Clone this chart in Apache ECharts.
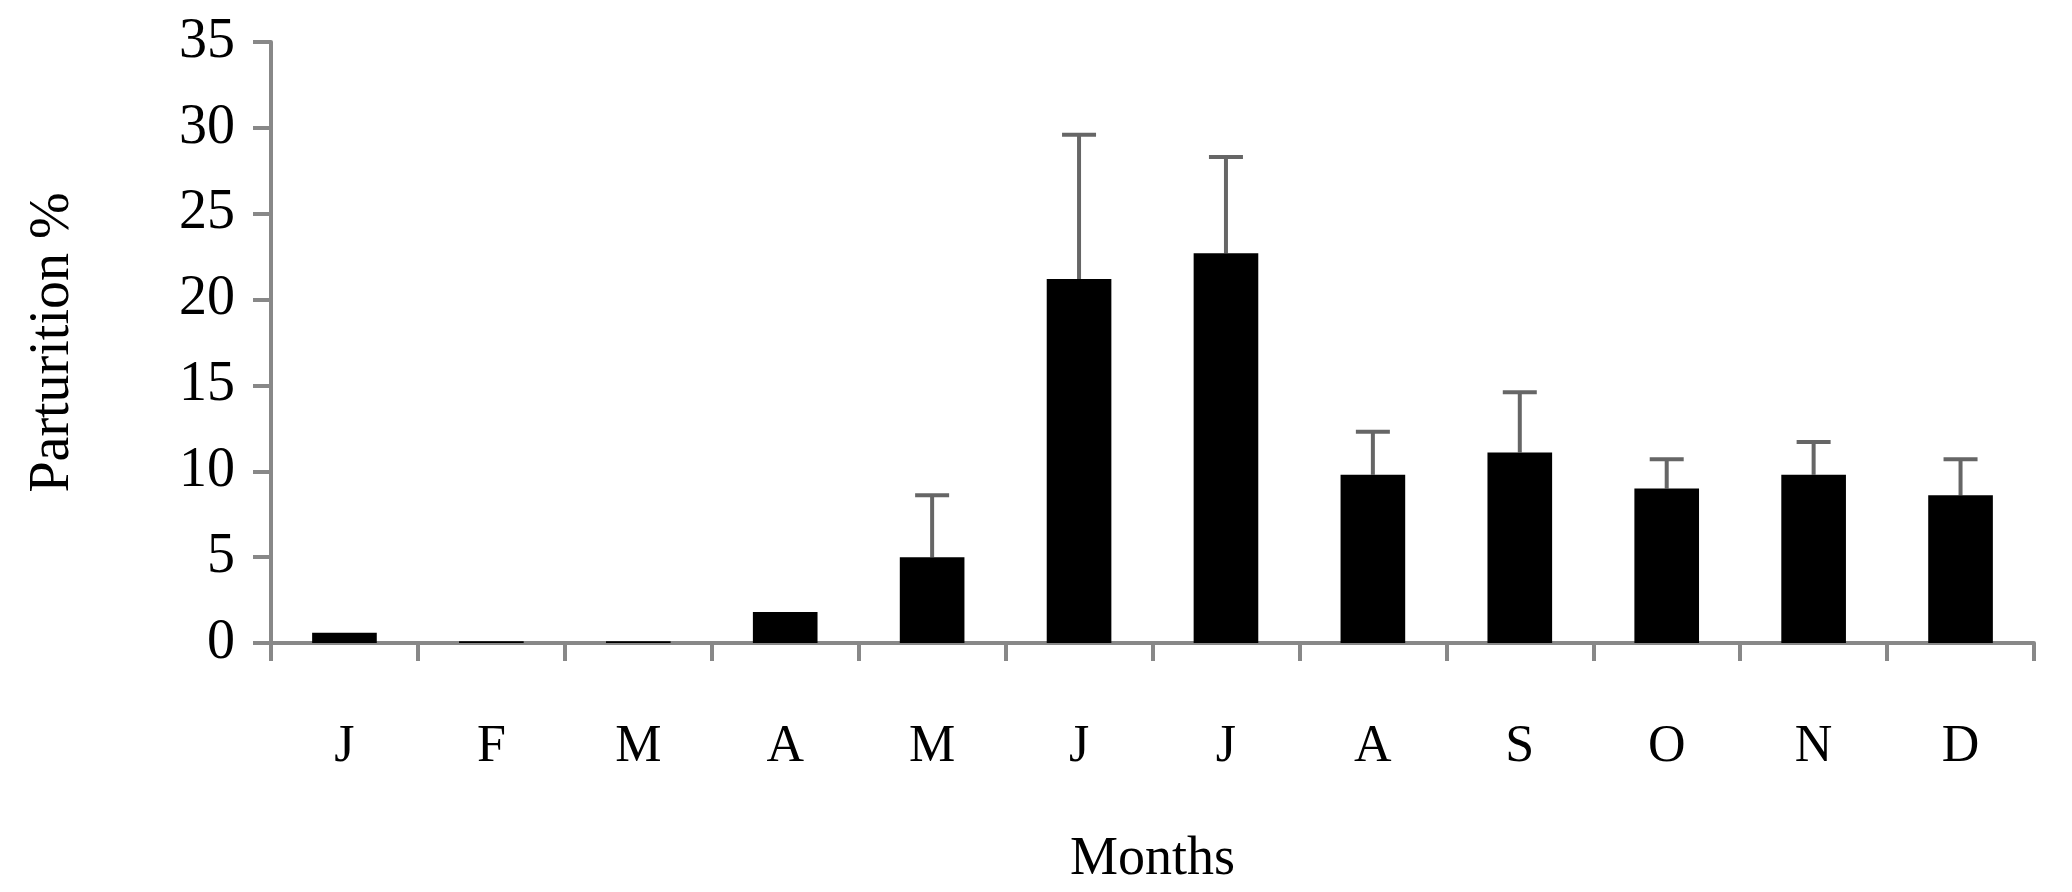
<!DOCTYPE html>
<html>
<head>
<meta charset="utf-8"/>
<script src="https://cdn.jsdelivr.net/npm/echarts@6/dist/echarts.min.js"></script>
<style>html,body{margin:0;background:#fff}#chart{width:2072px;height:892px}</style>
</head>
<body>
<div id="chart"></div>
<script>
var months = ['J', 'F', 'M', 'A', 'M', 'J', 'J', 'A', 'S', 'O', 'N', 'D'];
var parturition = [0.6, 0.1, 0.1, 1.8, 5.0, 21.2, 22.7, 9.8, 11.1, 9.0, 9.8, 8.6];
var errorTop = [0.6, 0.1, 0.1, 1.8, 8.6, 29.6, 28.3, 12.3, 14.6, 10.7, 11.7, 10.7];

var chart = echarts.init(document.getElementById('chart'));
var font = 'Liberation Serif';
var errData = [];
for (var i = 0; i < months.length; i++) {
    errData.push([i, parturition[i], errorTop[i]]);
}
chart.setOption({
    animation: false,
    grid: {left: 271, right: 38, top: 42, bottom: 242},
    xAxis: {
        type: 'category',
        data: months,
        name: 'Months',
        nameLocation: 'middle',
        nameGap: 190,
        nameTextStyle: {fontFamily: font, fontSize: 54, color: '#000'},
        axisLine: {lineStyle: {color: '#888', width: 4}},
        axisTick: {show: true, length: 18, lineStyle: {color: '#888', width: 4}},
        axisLabel: {fontFamily: font, fontSize: 52, color: '#000', margin: 78}
    },
    yAxis: {
        type: 'value',
        min: 0, max: 35, interval: 5,
        name: 'Parturition %',
        nameLocation: 'middle',
        nameGap: 190,
        nameTextStyle: {fontFamily: font, fontSize: 56, color: '#000'},
        splitLine: {show: false},
        axisLine: {show: true, lineStyle: {color: '#888', width: 4}},
        axisTick: {show: true, length: 18, lineStyle: {color: '#888', width: 4}},
        axisLabel: {fontFamily: font, fontSize: 56, color: '#000', margin: 36}
    },
    series: [
        {
            type: 'bar',
            data: parturition,
            barWidth: '44%',
            itemStyle: {color: '#000'}
        },
        {
            type: 'custom',
            data: errData,
            renderItem: function (params, api) {
                var base = api.coord([api.value(0), api.value(1)]);
                var top = api.coord([api.value(0), api.value(2)]);
                if (api.value(2) <= api.value(1)) return;
                var style = {stroke: '#666', lineWidth: 4};
                return {
                    type: 'group',
                    children: [
                        {type: 'line', shape: {x1: base[0], y1: base[1], x2: top[0], y2: top[1]}, style: style},
                        {type: 'line', shape: {x1: top[0] - 17, y1: top[1], x2: top[0] + 17, y2: top[1]}, style: style}
                    ]
                };
            },
            z: 1
        }
    ]
});
</script>
</body>
</html>
